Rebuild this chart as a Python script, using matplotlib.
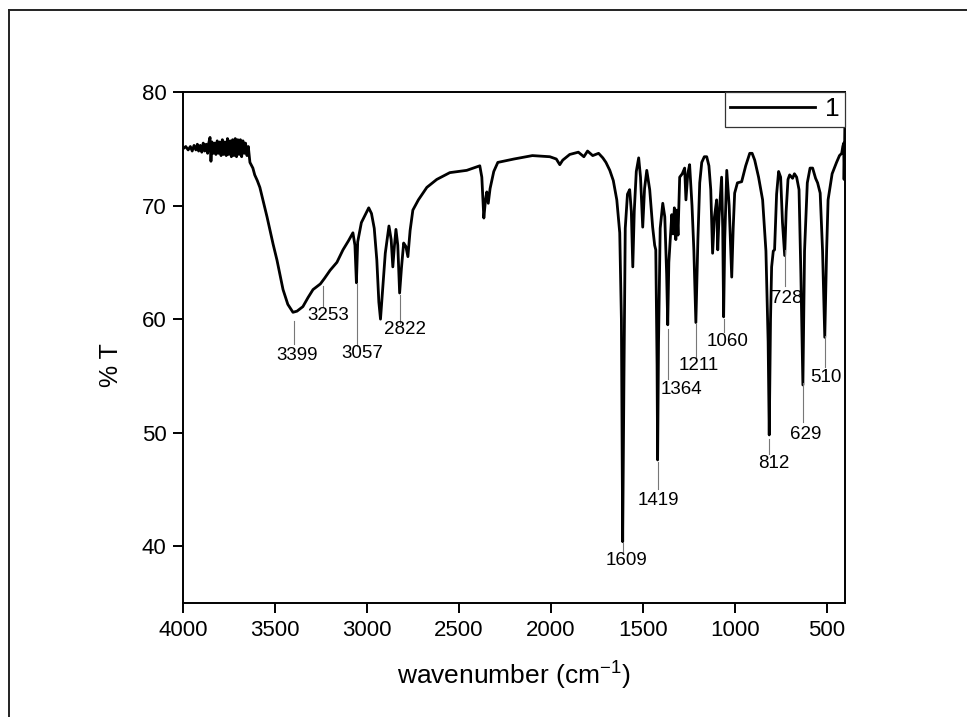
import matplotlib
matplotlib.use("Agg")
import matplotlib.pyplot as plt
from matplotlib.lines import Line2D

plt.rcParams['font.family'] = ['Liberation Sans', 'DejaVu Sans']
plt.rcParams['mathtext.fontset'] = 'custom'
plt.rcParams['mathtext.rm'] = 'Liberation Sans'

# IR spectrum (wavenumber in cm-1, %T)
wavenumber = [
    4000, 3985, 3972, 3960, 3950, 3940, 3930, 3922, 3915, 3906, 3898, 3890,
    3882, 3874, 3866, 3860, 3853, 3848, 3842, 3835, 3828, 3821, 3814, 3807,
    3800, 3793, 3786, 3779, 3772, 3765, 3758, 3751, 3744, 3737, 3730, 3723,
    3716, 3709, 3702, 3695, 3688, 3681, 3674, 3667, 3660, 3652, 3645, 3636,
    3620, 3610, 3596, 3582, 3543, 3510, 3489, 3456,
    3430, 3402, 3380, 3348, 3320, 3293, 3253, 3230, 3200, 3163, 3130, 3100,
    3076, 3065, 3057, 3050, 3030, 2990, 2975, 2960, 2946, 2935, 2926, 2915,
    2900, 2880, 2868, 2859, 2850, 2842, 2832, 2822, 2812, 2800, 2788, 2777,
    2765, 2750, 2720, 2674, 2620, 2549, 2457, 2386, 2375, 2364, 2355, 2348,
    2340, 2330, 2310, 2288, 2200, 2100, 2005, 1970, 1951, 1935, 1897, 1850,
    1820, 1800, 1772, 1740, 1717, 1700, 1679, 1660, 1641, 1625, 1616, 1609,
    1602, 1595, 1583, 1571, 1562, 1554, 1546, 1535, 1522, 1512, 1500, 1490,
    1478, 1462, 1446, 1435, 1429, 1422, 1419, 1414, 1405, 1391, 1380, 1370,
    1364, 1358, 1342, 1335, 1328, 1320, 1314, 1308, 1299, 1285, 1272, 1265,
    1255, 1245, 1232, 1222, 1211, 1200, 1190, 1179, 1165, 1152, 1140, 1130,
    1120, 1110, 1098, 1092, 1085, 1071, 1065, 1060, 1054, 1043, 1030, 1016,
    1008, 1000, 985, 962, 940, 918, 905, 891, 870, 848, 830, 818,
    812, 805, 799, 790, 783, 772, 761, 750, 740, 728, 720, 710,
    701, 685, 675, 663, 650, 640, 629, 620, 605, 590, 576, 560,
    549, 535, 522, 510, 500, 492, 470, 446, 430, 418, 412, 407,
    405, 403, 401,
]
transmittance = [
    75.0, 75.2, 74.9, 75.2, 74.8, 75.3, 74.9, 75.4, 74.8, 75.3, 74.7, 75.5,
    74.8, 75.4, 74.6, 75.5, 76.0, 73.9, 75.6, 74.6, 75.5, 74.5, 75.7, 74.6,
    75.6, 74.4, 75.8, 74.5, 75.6, 74.4, 75.9, 74.5, 75.7, 74.3, 75.8, 74.4,
    75.9, 74.3, 75.8, 74.5, 75.8, 74.3, 75.7, 74.6, 75.5, 74.4, 75.2, 73.8,
    73.3, 72.7, 72.2, 71.6, 69.0, 66.6, 65.2, 62.6,
    61.3, 60.6, 60.7, 61.1, 61.9, 62.6, 63.1, 63.6, 64.3, 65.0, 66.1, 66.9,
    67.6, 66.5, 63.2, 66.8, 68.5, 69.8, 69.3, 68.0, 65.2, 61.5, 60.0, 62.5,
    65.8, 68.2, 67.0, 64.6, 66.5, 67.9, 66.5, 62.3, 64.5, 66.7, 66.4, 65.5,
    67.8, 69.6, 70.5, 71.6, 72.3, 72.9, 73.1, 73.5, 72.5, 68.9, 70.5, 71.2,
    70.2, 71.5, 73.0, 73.8, 74.1, 74.4, 74.3, 74.1, 73.6, 74.0, 74.5, 74.7,
    74.3, 74.8, 74.4, 74.6, 74.2, 73.8, 73.1, 72.2, 70.5, 67.6, 60.0, 40.4,
    55.0, 68.0, 71.0, 71.4, 69.5, 64.6, 69.5, 73.0, 74.2, 72.5, 68.1, 71.5,
    73.1, 71.4, 68.1, 66.5, 66.1, 56.0, 47.6, 58.0, 68.0, 70.2, 69.0, 64.0,
    59.5, 65.0, 69.2, 67.5, 69.8, 67.0, 69.6, 67.4, 72.5, 72.8, 73.3, 70.5,
    72.8, 73.6, 70.0, 66.1, 59.7, 67.0, 72.0, 73.8, 74.3, 74.3, 73.5, 71.4,
    65.8, 69.0, 70.5, 66.1, 69.0, 72.5, 68.0, 60.2, 67.0, 73.1, 70.0, 63.7,
    68.0, 71.1, 72.0, 72.1, 73.5, 74.6, 74.6, 74.0, 72.5, 70.5, 66.0, 58.0,
    49.8, 60.0, 64.6, 66.0, 66.1, 71.0, 73.0, 72.5, 68.5, 65.6, 69.5, 72.3,
    72.7, 72.4, 72.8, 72.5, 71.4, 64.0, 54.2, 66.0, 72.0, 73.3, 73.3, 72.4,
    72.0, 71.1, 66.0, 58.4, 66.0, 70.5, 72.8, 73.8, 74.4, 74.6, 75.2, 75.5,
    72.3, 74.0, 76.8,
]

# peak labels: (label, wavenumber of line, line top, line bottom, text x, text y)
peaks = [
    ("3399", 3399, 59.8, 57.8, 3380, 56.8),
    ("3253", 3239, 62.9, 61.1, 3212, 60.3),
    ("3057", 3054, 63.2, 57.6, 3027, 57.0),
    ("2822", 2821, 62.1, 59.7, 2793, 59.1),
    ("1609", 1609, 40.3, 39.5, 1587, 38.7),
    ("1419", 1419, 47.4, 45.0, 1413, 44.0),
    ("1364", 1364, 59.1, 54.7, 1288, 53.8),
    ("1211", 1211, 59.7, 56.7, 1196, 55.9),
    ("1060", 1060, 60.0, 58.9, 1038, 58.0),
    ("812", 812, 49.4, 48.1, 788, 47.3),
    ("728", 728, 66.1, 62.9, 717, 61.8),
    ("629", 629, 54.4, 50.9, 614, 49.8),
    ("510", 510, 58.5, 55.8, 505, 54.9),
]

fig = plt.figure(figsize=(9.67, 7.17), dpi=100)
ax = fig.add_axes([183 / 967, 1 - 603 / 717, 662 / 967, 511 / 717])

ax.plot(wavenumber, transmittance, color='black', lw=2.0, label='1')

for lab, xw, ytop, ybot, tx, ty in peaks:
    ax.plot([xw, xw], [ytop, ybot], color='#777777', lw=0.8)
    ax.text(tx, ty, lab, fontsize=13.5, ha='center', va='center')

ax.set_xlim(4000, 400)
ax.set_ylim(35, 80)
ax.set_xticks([4000, 3500, 3000, 2500, 2000, 1500, 1000, 500])
ax.set_yticks([40, 50, 60, 70, 80])
ax.tick_params(direction='out', length=7, width=1.4, labelsize=16, pad=5)
for sp in ax.spines.values():
    sp.set_linewidth(1.4)

ax.set_xlabel('wavenumber (cm$^{\\mathregular{-1}}$)', fontsize=19)
ax.xaxis.set_label_coords(0.5, -0.108)
ax.set_ylabel('% T', fontsize=18)
ax.yaxis.set_label_coords(-0.09, 0.466)

leg = ax.legend(loc='upper right', bbox_to_anchor=(1, 1), borderaxespad=0,
                fontsize=19, handlelength=3.2, handletextpad=0.4,
                borderpad=0.2, fancybox=False, framealpha=1)
leg.get_frame().set_edgecolor('#333333')
leg.get_frame().set_linewidth(0.9)

# outer frame (only left and top edges visible)
fig.add_artist(Line2D([9 / 967, 9 / 967], [0, 1 - 10 / 717], color='#222222', lw=1.4))
fig.add_artist(Line2D([9 / 967, 1], [1 - 10 / 717, 1 - 10 / 717], color='#222222', lw=1.4))

fig.savefig('out.png', dpi=100)
